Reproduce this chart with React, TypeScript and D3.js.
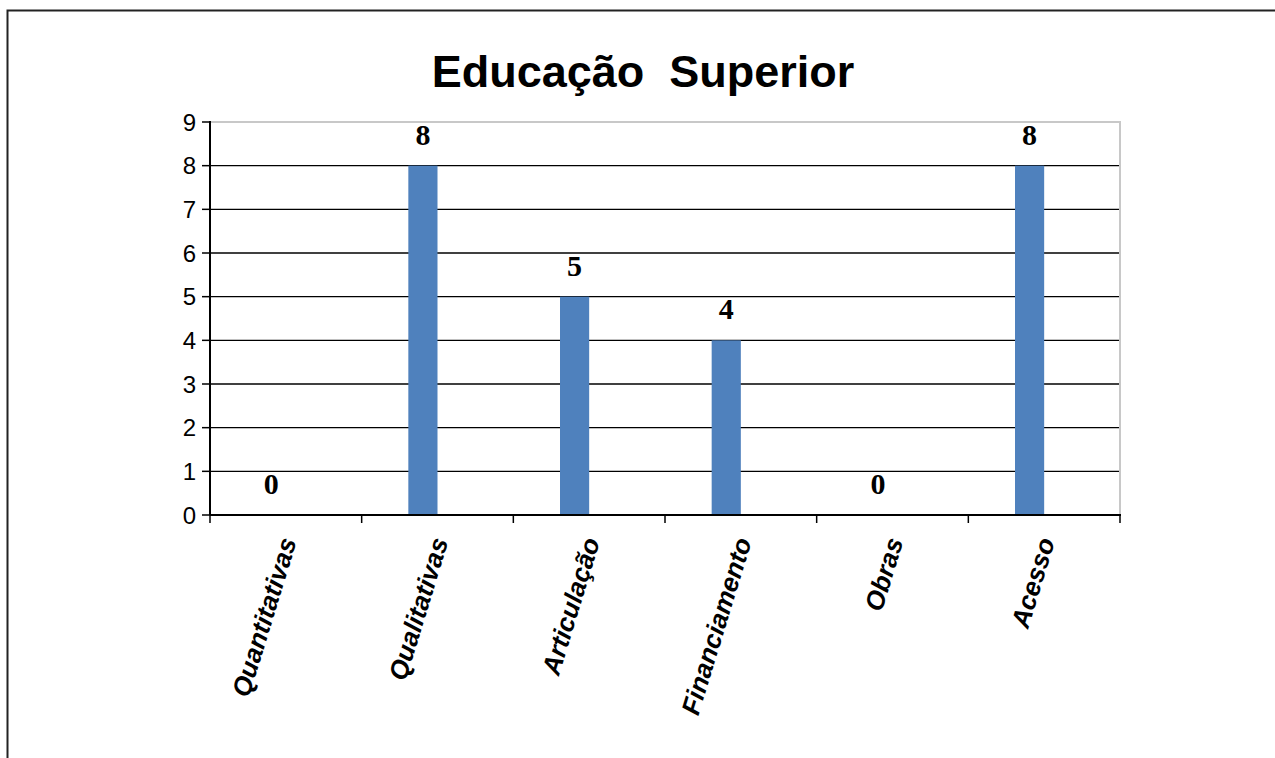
import * as d3 from 'd3'

const categories = ['Quantitativas', 'Qualitativas', 'Articulação', 'Financiamento', 'Obras', 'Acesso']
const values = [0, 8, 5, 4, 0, 8]
const seriesNames = ['Educação Superior', '']
const yTicks = [0, 1, 2, 3, 4, 5, 6, 7, 8, 9]
const title = 'Educação  Superior'

const W = 1275
const H = 758
const plot = { left: 210, right: 1120, top: 122, bottom: 515 }

export default function App() {
	const x = d3.scaleBand<string>().domain(categories).range([plot.left, plot.right]).padding(0)
	// Excel-style cluster: the visible series sits left of centre, the second is empty
	const xs = d3
		.scaleBand<string>()
		.domain(seriesNames)
		.range([0, x.bandwidth()])
		.paddingInner(0)
		.paddingOuter(1.6)
	const y = d3.scaleLinear().domain([0, 9]).range([plot.bottom, plot.top])
	const bw = xs.bandwidth()
	const sans = 'Liberation Sans, Arial, sans-serif'
	const serif = 'Liberation Serif, Times New Roman, serif'
	const boundaries = categories.map(c => x(c) as number).concat([plot.right])

	return (
		<svg
			width={W}
			height={H}
			style={{ position: 'absolute', left: 0, top: 0, background: '#fff' }}
		>
			<rect x={0} y={0} width={W} height={H} fill="#fff" />
			{/* outer frame */}
			<path d={`M7.5,${H} V10.5 H${W}`} fill="none" stroke="#222" strokeWidth={2} />

			<text
				x={643}
				y={87}
				textAnchor="middle"
				fontFamily={sans}
				fontWeight="bold"
				fontSize={45}
				style={{ whiteSpace: 'pre' }}
			>
				{title}
			</text>

			{/* gridlines */}
			{yTicks.slice(1, -1).map(t => (
				<line key={t} x1={plot.left} x2={plot.right} y1={y(t)} y2={y(t)} stroke="#000" strokeWidth={1.3} />
			))}
			{/* plot border top/right */}
			<path
				d={`M${plot.left},${y(9)} H${plot.right} V${plot.bottom}`}
				fill="none"
				stroke="#c8c8c8"
				strokeWidth={2}
			/>

			{/* bars */}
			{categories.map((c, i) => (
				<rect
					key={c}
					x={(x(c) as number) + (xs(seriesNames[0]) as number)}
					y={y(values[i])}
					width={bw}
					height={y(0) - y(values[i])}
					fill="#4F81BD"
				/>
			))}

			{/* value labels */}
			{categories.map((c, i) => (
				<text
					key={c}
					x={(x(c) as number) + (xs(seriesNames[0]) as number) + bw / 2}
					y={y(values[i]) - 21}
					textAnchor="middle"
					fontFamily={serif}
					fontWeight="bold"
					fontSize={30}
				>
					{values[i]}
				</text>
			))}

			{/* y axis */}
			<line x1={plot.left} x2={plot.left} y1={y(9) - 1} y2={plot.bottom} stroke="#000" strokeWidth={2} />
			{yTicks.map(t => (
				<g key={t}>
					<line x1={plot.left - 8} x2={plot.left} y1={y(t)} y2={y(t)} stroke="#000" strokeWidth={1.5} />
					<text
						x={plot.left - 14}
						y={y(t)}
						dy="0.36em"
						textAnchor="end"
						fontFamily={sans}
						fontSize={24}
					>
						{t}
					</text>
				</g>
			))}

			{/* x axis */}
			<line x1={plot.left} x2={plot.right + 1} y1={plot.bottom} y2={plot.bottom} stroke="#000" strokeWidth={2} />
			{boundaries.map((b, i) => (
				<line key={i} x1={b} x2={b} y1={plot.bottom} y2={plot.bottom + 8} stroke="#000" strokeWidth={1.5} />
			))}
			{categories.map(c => {
				const cx = (x(c) as number) + x.bandwidth() / 2
				return (
					<text
						key={c}
						transform={`translate(${cx + 11},${plot.bottom + 26}) rotate(-73)`}
						textAnchor="end"
						fontFamily={sans}
						fontWeight="bold"
						fontStyle="italic"
						fontSize={26}
					>
						{c}
					</text>
				)
			})}
		</svg>
	)
}
